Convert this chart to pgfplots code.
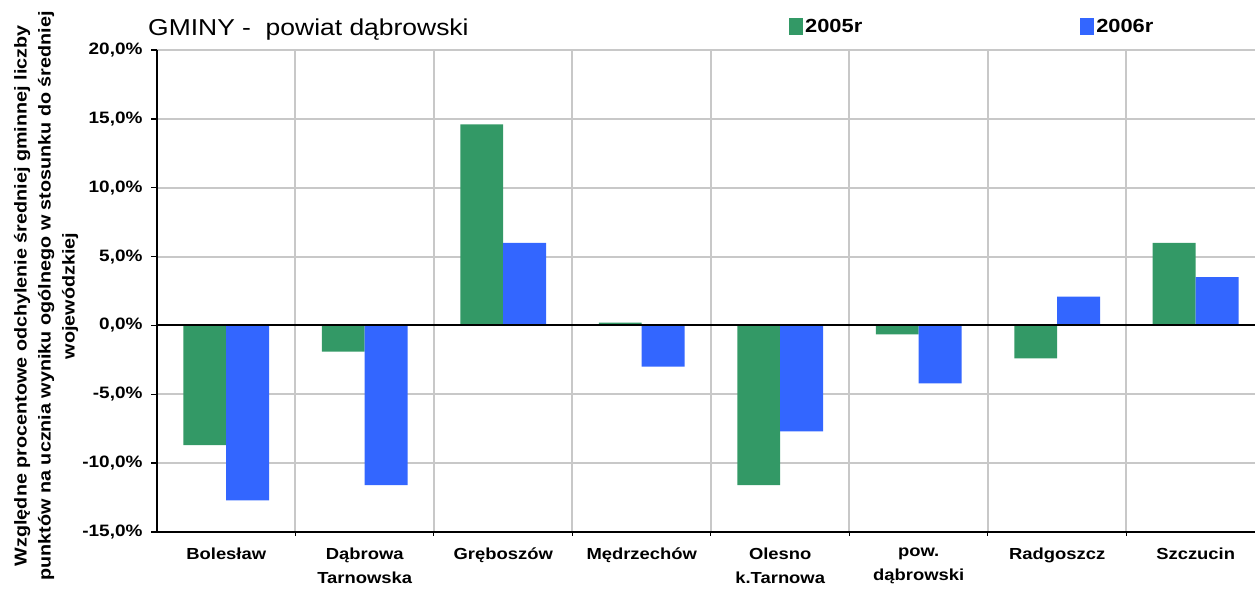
\documentclass[border=0pt]{standalone}
\usepackage{pgfplots}
\pgfplotsset{compat=1.18}
\usepackage{fontspec}
\setmainfont[FakeStretch=1.15]{Liberation Sans}
\definecolor{cg}{HTML}{339966}
\definecolor{cb}{HTML}{3366FF}
\definecolor{gridc}{HTML}{C8C8C8}
\begin{document}
\begin{tikzpicture}[x=1pt,y=1pt]
\path[use as bounding box] (0,0) rectangle (1255,591);
\begin{axis}[
  at={(157pt,59pt)}, anchor=south west,
  scale only axis, width=1098pt, height=482pt,
  xmin=-0.5, xmax=7.428, ymin=-15, ymax=20,
  axis x line*=bottom, axis y line*=left,
  axis line style={line width=2pt, -},
  xtick={0,1,2,3,4,5,6,7},
  xticklabels={Bolesław, {Dąbrowa\\Tarnowska}, Gręboszów, Mędrzechów, {Olesno\\k.Tarnowa}, {pow.\\dąbrowski}, Radgoszcz, Szczucin},
  x tick label style={font=\bfseries\fontsize{16}{24}\selectfont, align=center, anchor=north, yshift=-6pt},
  major x tick style={draw=none},
  minor xtick={0.5,1.5,2.5,3.5,4.5,5.5,6.5},
  xminorgrids, minor grid style={gridc, line width=2pt},
  minor x tick style={black, line width=1pt},
  ytick={-15,-10,-5,0,5,10,15,20},
  yticklabels={{-15,0\%},{-10,0\%},{-5,0\%},{0,0\%},{5,0\%},{10,0\%},{15,0\%},{20,0\%}},
  y tick label style={font=\bfseries\fontsize{16.5}{18}\selectfont, xshift=-5pt},
  ymajorgrids, major grid style={gridc, line width=2pt},
  tick align=outside, major tick length=6pt, minor tick length=4pt,
  y tick style={black, line width=1.5pt},
  ylabel={Względne procentowe odchylenie średniej gminnej liczby\\punktów na ucznia wyniku ogólnego w stosunku do średniej\\wojewódzkiej},
  ylabel style={font=\bfseries\fontsize{17.2}{24}\selectfont, align=center, at={(axis description cs:-0.101,0.49)}, anchor=center, rotate=0},
  legend columns=2,
  legend style={at={(axis description cs:0.5756,1.048)}, anchor=west, draw=none, fill=none, inner sep=0pt,
    font=\bfseries\fontsize{19}{22}\selectfont,
    /tikz/every even column/.append style={column sep=216pt}},
  legend image code/.code={\fill[#1] (0pt,-8.5pt) rectangle (14pt,8.5pt);},
]
\addplot[ybar, bar width=0.31, bar shift=-0.155, fill=cg, draw=none] coordinates {
 (0,-8.7) (1,-1.9) (2,14.6) (3,0.2) (4,-11.6) (5,-0.65) (6,-2.4) (7,6.0)};
\addlegendentry{2005r}
\addplot[ybar, bar width=0.31, bar shift=0.155, fill=cb, draw=none] coordinates {
 (0,-12.7) (1,-11.6) (2,6.0) (3,-3.0) (4,-7.7) (5,-4.2) (6,2.1) (7,3.5)};
\addlegendentry{2006r}
\draw[black, line width=2pt] (axis cs:-0.5,0) -- (axis cs:7.428,0);
\end{axis}
\node[anchor=west, inner sep=0pt, font=\fontsize{23}{26}\selectfont] at (148,561) {GMINY -\ \ powiat dąbrowski};
\end{tikzpicture}
\end{document}
